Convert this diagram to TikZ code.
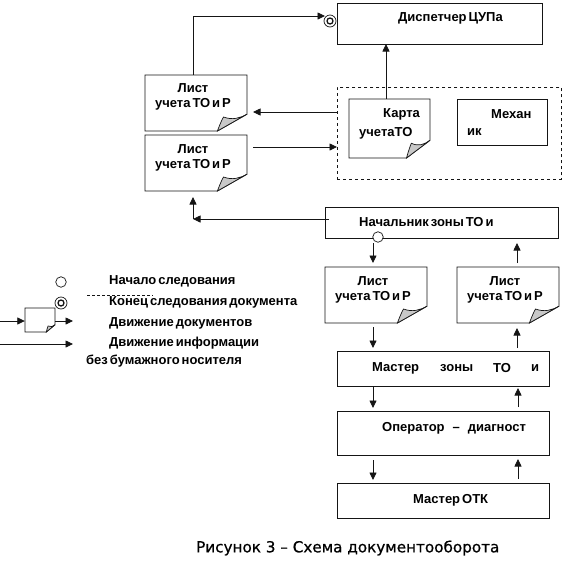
\documentclass[tikz,border=0pt]{standalone}
\usepackage{fontspec}
\setmainfont[WordSpace=0.55]{Liberation Sans}
\newfontfamily\capfont[FakeBold=0.6]{DejaVu Sans}
\usetikzlibrary{arrows.meta,calc}
\definecolor{foldgray}{HTML}{C8C8C8}
\definecolor{ink}{HTML}{151515}
\tikzset{
  line/.style={draw=ink,line width=0.8pt},
  arr/.style={line,-{Triangle[length=7.5pt,width=7pt]}},
  boxn/.style={line,rectangle,inner sep=0pt,anchor=north west},
  txt/.style={font=\fontsize{13}{15}\selectfont\bfseries,text=black,inner sep=0pt},
  startc/.style={circle,draw=ink,line width=0.7pt,fill=white,minimum size=10.5pt,inner sep=0pt},
  endc/.style={circle,draw=ink,line width=0.7pt,fill=white,minimum size=12pt,inner sep=0pt},
  endi/.style={circle,draw=ink,line width=1.3pt,fill=white,minimum size=6pt,inner sep=0pt},
  capt/.style={font=\fontsize{15.2}{17}\selectfont\capfont,text=black,inner sep=0pt,anchor=west}
}
% name, x1, y1, x2, y2
\newcommand{\docshape}[5]{%
  \pgfmathsetmacro{\fx}{#4-0.29*(#4-#2)}%
  \pgfmathsetmacro{\fy}{#5-0.3*(#5-#3)}%
  \pgfmathsetmacro{\mx}{\fx+0.06*(#4-#2)}%
  \pgfmathsetmacro{\my}{\fy+0.05*(#5-#3)}%
  \path[draw=ink,line width=0.8pt,fill=white] (#2,#3) -- (#4,#3) -- (#4,\fy) -- (\fx,#5) -- (#2,#5) -- cycle;
  \path[fill=foldgray,draw=ink,line width=0.7pt] (\fx,#5) .. controls ({\fx+0.03*(#4-#2)},{\my+0.1*(#5-#3)}) and ({\mx-0.01*(#4-#2)},{\my+0.03*(#5-#3)}) .. (\mx,\my) .. controls ({\mx+0.09*(#4-#2)},{\my+0.06*(#5-#3)}) and ({#4-0.07*(#4-#2)},{\fy+0.07*(#5-#3)}) .. (#4,\fy) -- cycle;
  \node[inner sep=0pt,minimum width={(#4-#2)*1pt},minimum height={(#5-#3)*1pt}] (#1) at ({(#2+#4)/2},{(#3+#5)/2}) {};%
}
\begin{document}
\begin{tikzpicture}[x=1pt,y=-1pt]
\useasboundingbox (0,0) rectangle (562,574);
\fill[white] (0,0) rectangle (562,574);

% boxes
\node[boxn,minimum width=205pt,minimum height=41pt] (disp) at (337,3) {};
\node[boxn,dashed,minimum width=224pt,minimum height=92pt] (zone) at (337,87) {};
\node[boxn,minimum width=90pt,minimum height=46pt] (mech) at (457,99) {};
\node[boxn,minimum width=233pt,minimum height=31pt] (nach) at (325,207) {};
\node[boxn,minimum width=212pt,minimum height=35pt] (mast) at (337,351) {};
\node[boxn,minimum width=212pt,minimum height=44pt] (oper) at (337,411) {};
\node[boxn,minimum width=212pt,minimum height=35pt] (otk) at (337,483) {};

% documents
\docshape{d1}{145}{75}{247}{131}
\docshape{d2}{145}{135}{247}{191}
\docshape{karta}{349}{99}{430}{158}
\docshape{d3}{325}{267}{427}{323}
\docshape{d4}{457}{267}{559}{323}
\docshape{ldoc}{25}{308}{55}{332}

% markers
\node[endc] (endm) at (330,21) {};
\node[endi] (endmi) at (330,21) {};
\node[startc] (startm) at (378,237) {};
\node[startc] (lstart) at (61,282) {};
\node[endc] (lend) at (61,303) {};
\node[endi] (lendi) at (61,303) {};

% free ends
\coordinate (e1) at (193,16);
\coordinate (e2) at (325,16);
\coordinate (kx) at (386,44);
\coordinate (a1) at (253,112);
\coordinate (a2) at (253,147);
\coordinate (n0) at (329,219);
\coordinate (n1) at (193,219);
\coordinate (n2) at (193,197);
\coordinate (l1) at (0,321);
\coordinate (l2) at (73,321);
\coordinate (l3) at (0,344);
\coordinate (l4) at (73,344);
\coordinate (l5) at (87,295);
\coordinate (l6) at (153,295);
\coordinate (s1) at (373,243);
\coordinate (s2) at (373,263);
\coordinate (s3) at (373,327);
\coordinate (s4) at (373,348);
\coordinate (s5) at (373,387);
\coordinate (s6) at (373,408);
\coordinate (s7) at (373,460);
\coordinate (s8) at (373,480);
\coordinate (u1) at (518,479);
\coordinate (u2) at (518,459);
\coordinate (u3) at (518,407);
\coordinate (u4) at (518,388);
\coordinate (u5) at (517,348);
\coordinate (u6) at (517,328);
\coordinate (u7) at (517,263);
\coordinate (u8) at (517,243);

% connectors
\draw[arr] (e1 |- d1.north) -- (e1) -- (e2);
\draw[arr] (kx |- karta.north) -- (kx);
\draw[arr] (zone.west |- a1) -- (a1);
\draw[arr] (a2) -- (zone.west |- a2);
\draw[arr] (n0) -- (n1);
\draw[arr] (n1) -- (n2);
\draw[arr] (s1) -- (s2);
\draw[arr] (s3) -- (s4);
\draw[arr] (s5) -- (s6);
\draw[arr] (s7) -- (s8);
\draw[arr] (u1) -- (u2);
\draw[arr] (u3) -- (u4);
\draw[arr] (u5) -- (u6);
\draw[arr] (u7) -- (u8);
\draw[arr] (l1) -- (ldoc.west |- l1);
\draw[arr] (ldoc.east |- l2) -- (l2);
\draw[arr] (l3) -- (l4);
\draw[line width=0.5pt,dash pattern=on 3pt off 2pt,draw=ink] (l5) -- (l6);

% texts
\node[txt,anchor=west] (t0) at (398,18) {Диспетчер ЦУПа};
\node[txt,align=center] (t1) at (193,96.5) {Лист\\учета ТО и Р};
\node[txt,align=center] (t2) at (193,157.5) {Лист\\учета ТО и Р};
\node[txt,align=center] (t3) at (373,289.5) {Лист\\учета ТО и Р};
\node[txt,align=center] (t4) at (505,289.5) {Лист\\учета ТО и Р};
\node[txt,anchor=west] (t5) at (383,114) {Карта};
\node[txt,anchor=west] (t6) at (359,133) {учетаТО};
\node[txt,anchor=west] (t7) at (491,114) {Механ};
\node[txt,anchor=west] (t8) at (467,132) {ик};
\node[txt,anchor=west] (t9) at (359,222) {Начальник зоны ТО и};
\node[txt,anchor=west] (t10) at (372,368) {Мастер};
\node[txt,anchor=west] (t11) at (440,368) {зоны};
\node[txt,anchor=west] (t12) at (493,368) {ТО};
\node[txt,anchor=west] (t13) at (531,368) {и};
\node[txt,anchor=west] (t14) at (382,428) {Оператор\hspace{6pt} – \hspace{6pt}диагност};
\node[txt,anchor=west] (t15) at (413,500) {Мастер ОТК};
\node[txt,anchor=west] (t16) at (109,281) {Начало следования};
\node[txt,anchor=west] (t17) at (109,302) {Конец следования документа};
\node[txt,anchor=west] (t18) at (109,323) {Движение документов};
\node[txt,anchor=west] (t19) at (109,343) {Движение информации};
\node[txt,anchor=west] (t20) at (86,361) {без бумажного носителя};
\node[capt] (cap) at (196,548) {Рисунок 3 – Схема документооборота};
\end{tikzpicture}
\end{document}
